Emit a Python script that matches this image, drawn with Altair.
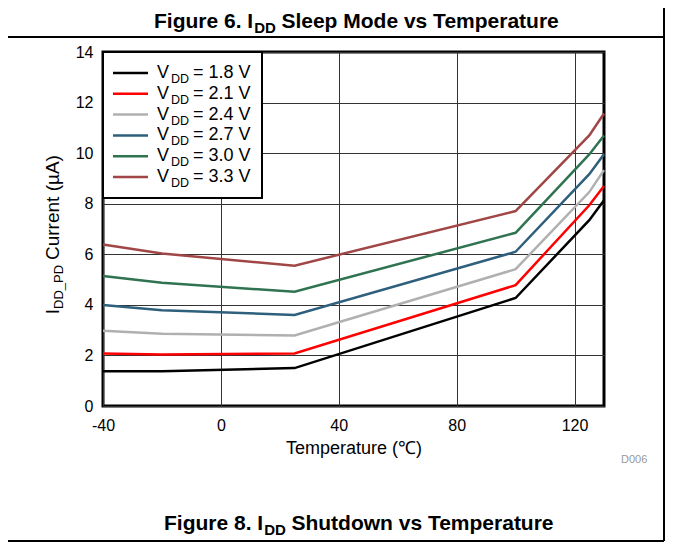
import altair as alt
import pandas as pd

# ---- data ----
temps = [-40, -20, 25, 100, 125, 130]
vdd_labels = ["1.8", "2.1", "2.4", "2.7", "3.0", "3.3"]
i_18 = [1.37, 1.37, 1.50, 4.27, 7.35, 8.14]
i_21 = [2.08, 2.04, 2.08, 4.78, 7.94, 8.70]
i_24 = [2.98, 2.86, 2.79, 5.41, 8.46, 9.33]
i_27 = [3.99, 3.79, 3.60, 6.10, 9.17, 9.96]
i_30 = [5.14, 4.87, 4.52, 6.85, 9.95, 10.70]
i_33 = [6.39, 6.03, 5.55, 7.71, 10.70, 11.57]
colors = ["#000000", "#ff0000", "#b0b0b0", "#2e5f7c", "#2f7350", "#a14646"]
x_ticks = [-40, 0, 40, 80, 120]
y_ticks = [0, 2, 4, 6, 8, 10, 12, 14]

series = [i_18, i_21, i_24, i_27, i_30, i_33]
rows = []
for lab, vals in zip(vdd_labels, series):
    for t, v in zip(temps, vals):
        rows.append({"temp": t, "current": v, "vdd": lab})
df = pd.DataFrame(rows)
leg = pd.DataFrame({"vdd": vdd_labels, "rest": ["= %s V" % l for l in vdd_labels]})

FONT = "Liberation Sans, Arial, Helvetica, sans-serif"
color_scale = alt.Scale(domain=vdd_labels, range=colors)
one = alt.Data(values=[{"k": 0}])

lines = alt.Chart(df).mark_line(strokeWidth=2.5).encode(
    x=alt.X("temp:Q",
            scale=alt.Scale(domain=[-40, 130], nice=False, zero=False),
            axis=alt.Axis(values=x_ticks, title="Temperature (℃)",
                          labelExpr="'' + datum.value",
                          labelPadding=11, titlePadding=6, labelFlush=False)),
    y=alt.Y("current:Q",
            scale=alt.Scale(domain=[0, 14], nice=False),
            axis=alt.Axis(values=y_ticks, title=None, labelPadding=10, labelFlush=False)),
    color=alt.Color("vdd:N", scale=color_scale, legend=None),
)

leg_y = alt.Y("vdd:O",
              scale=alt.Scale(type="point", domain=vdd_labels, range=[21, 125], padding=0),
              axis=None)

leg_box = alt.Chart(one).mark_rect(fill="white", stroke="black", strokeWidth=2).encode(
    x=alt.value(0), x2=alt.value(159), y=alt.value(0), y2=alt.value(146))

leg_sym = alt.Chart(leg).mark_rule(strokeWidth=2.5).encode(
    x=alt.value(10), x2=alt.value(45), y=leg_y,
    color=alt.Color("vdd:N", scale=color_scale, legend=None))

leg_v = alt.Chart(leg).mark_text(text="V", align="left", baseline="middle",
                                 font=FONT, fontSize=18, color="black").encode(
    x=alt.value(54), y=leg_y)
leg_dd = alt.Chart(leg).mark_text(text="DD", align="left", baseline="middle",
                                  font=FONT, fontSize=12.5, dy=6, color="black").encode(
    x=alt.value(68), y=leg_y)
leg_rest = alt.Chart(leg).mark_text(align="left", baseline="middle",
                                    font=FONT, fontSize=18, color="black").encode(
    x=alt.value(90), y=leg_y, text="rest:N")


def txt(s, x, y, size, weight="normal", align="left", angle=0, color="black"):
    kw = dict(text=s, align=align, baseline="alphabetic", font=FONT,
              fontSize=size, fontWeight=weight, color=color)
    if angle:
        kw["angle"] = angle
    return alt.Chart(one).mark_text(**kw).encode(x=alt.value(x), y=alt.value(y))


texts = [
    # top title
    txt("Figure 6. I", 150.2, -24.5, 21, "bold", "right"),
    txt("DD", 151.2, -19.5, 15, "bold"),
    txt("Sleep Mode vs Temperature", 178.4, -24.5, 21, "bold"),
    # bottom title
    txt("Figure 8. I", 160.2, 478, 21, "bold", "right"),
    txt("DD", 161.2, 483, 15, "bold"),
    txt("Shutdown vs Temperature", 188.4, 478, 21, "bold"),
    # y axis title
    txt("I", -44, 257, 19, align="right", angle=270),
    txt("DD_PD", -40, 257, 13, angle=270),
    txt("Current (µA)", -44, 208, 19, angle=270),
    # figure id
    txt("D006", 518, 411, 11, color="#999999"),
]

borders = [
    alt.Chart(one).mark_rule(color="black", strokeWidth=2).encode(
        x=alt.value(-95), x2=alt.value(561), y=alt.value(-15)),
    alt.Chart(one).mark_rule(color="black", strokeWidth=2).encode(
        x=alt.value(561), y=alt.value(-44), y2=alt.value(489)),
    alt.Chart(one).mark_rule(color="black", strokeWidth=2).encode(
        x=alt.value(-95), x2=alt.value(561), y=alt.value(489)),
]

chart = alt.layer(
    lines, leg_box, leg_sym, leg_v, leg_dd, leg_rest, *texts, *borders
).resolve_scale(y="independent").properties(
    width=501, height=354,
    autosize=alt.AutoSizeParams(type="none"),
    padding={"left": 95, "top": 44, "right": 61, "bottom": 136},
).configure_view(
    stroke="black", strokeWidth=3
).configure_axis(
    grid=True, gridColor="#333333", gridWidth=1, gridOpacity=1,
    domain=False, ticks=False,
    labelFont=FONT, labelFontSize=16, labelColor="black",
    titleFont=FONT, titleFontSize=18, titleFontWeight="normal", titleColor="black",
)

chart.save("out.html", embed_options={"renderer": "svg", "actions": False})
